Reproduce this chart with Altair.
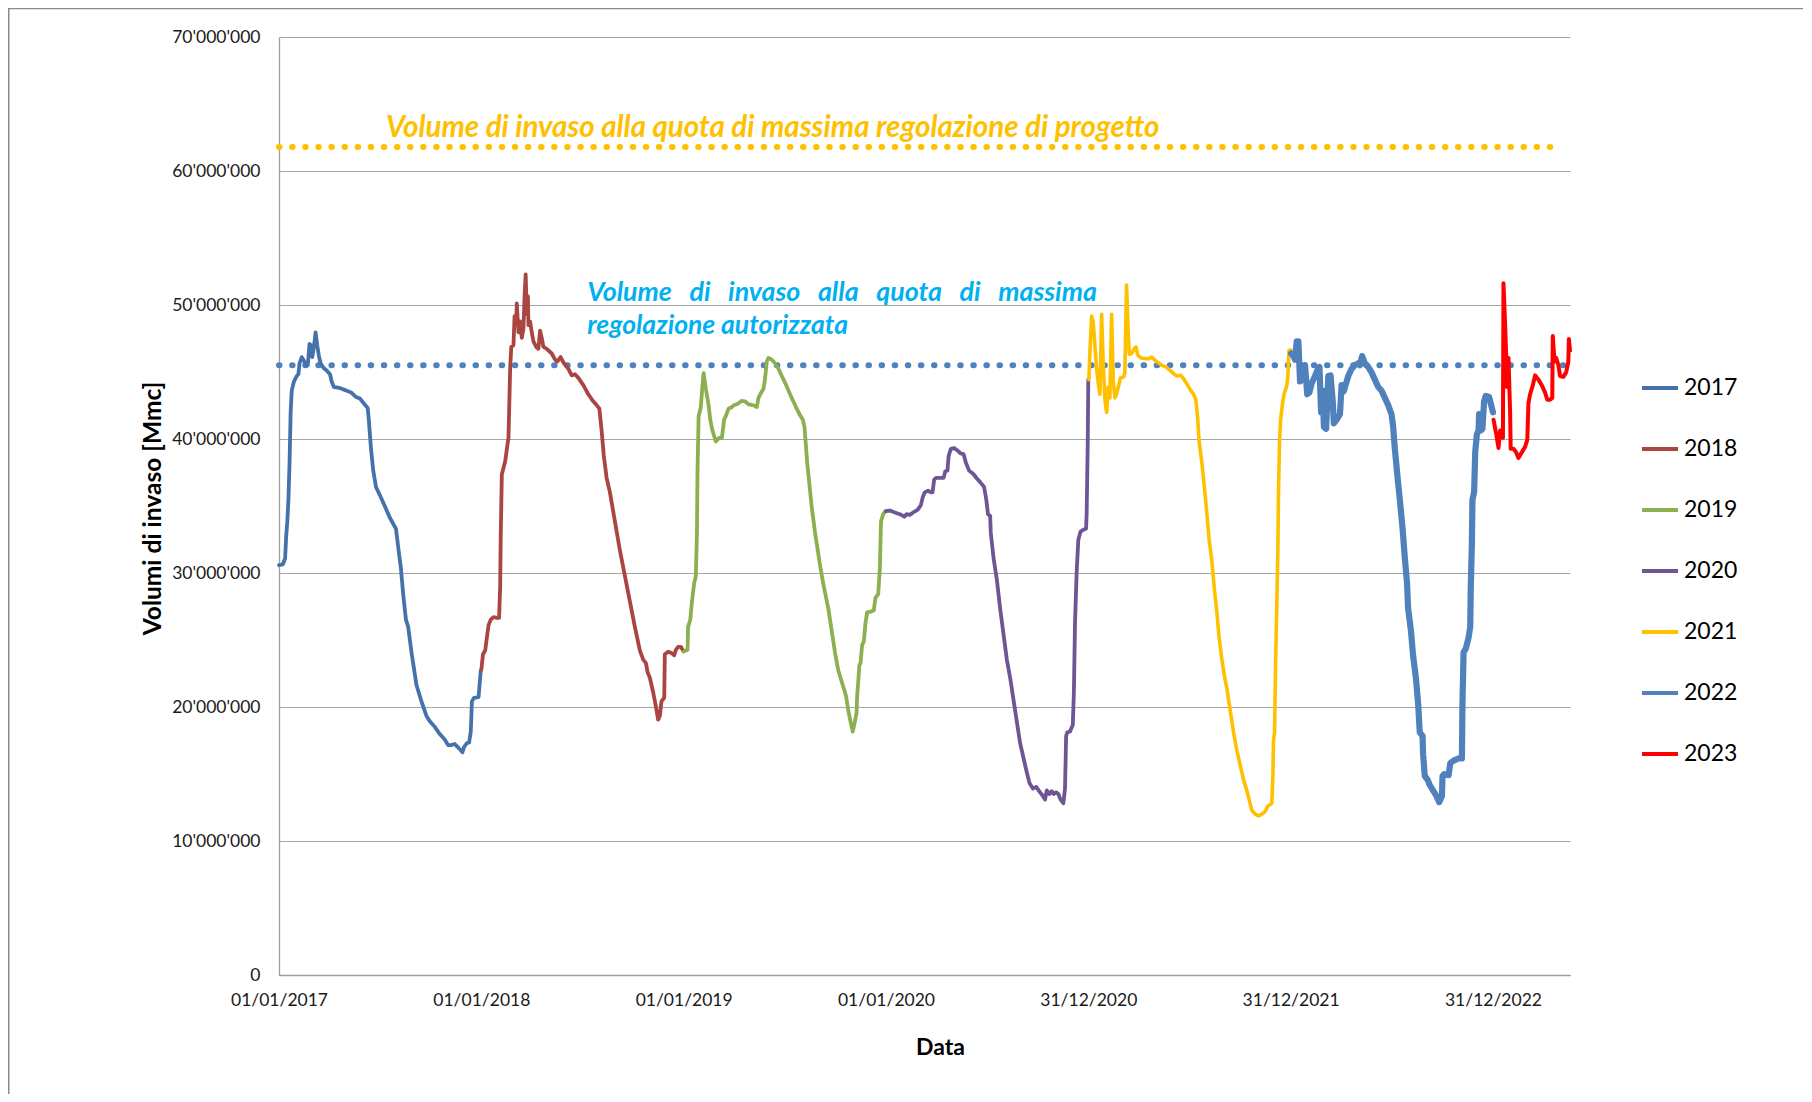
import altair as alt
import pandas as pd

# ---------------- data ----------------
START = "2017-01-01"          # day 0 of the day offsets below
AXIS_END = "2023-05-19"       # right end of the date axis

years = ["2017", "2018", "2019", "2020", "2021", "2022", "2023"]
year_colors = ["#4572AA", "#AA4542", "#8CB050", "#6E5594", "#FFC000", "#4F81BD", "#FF0000"]
year_widths = [3.8, 3.8, 3.8, 3.8, 3.6, 6.2, 4.0]

# days since START, volumes in millions of m3
d2017 = [0, 7, 11, 13, 15, 17, 19, 21, 23, 27, 32, 35, 37, 41, 45, 49, 52, 55, 58, 60,
         63, 66, 69, 72, 75, 80, 86, 92, 95, 99, 107, 113, 122, 131, 139, 146, 153, 160, 162, 166,
         170, 175, 182, 191, 200, 211, 215, 220, 224, 229, 233, 239, 248, 257, 266, 272, 281, 290, 299, 305,
         311, 317, 322, 327, 331, 334, 339, 343, 346, 348, 352, 360, 364]
v2017 = [30.59, 30.65, 31.08, 32.76, 33.85, 35.47, 38.19, 41.99, 43.61, 44.29, 44.70, 44.83, 45.65, 46.11, 45.84, 45.46, 45.51, 47.09, 47.00, 46.11,
         46.87, 47.95, 47.00, 46.19, 45.65, 45.32, 45.11, 44.83, 44.29, 43.88, 43.83, 43.75, 43.61, 43.45, 43.13, 43.02, 42.66, 42.31, 41.44, 39.27,
         37.64, 36.42, 35.80, 34.98, 34.12, 33.30, 31.95, 30.32, 28.42, 26.52, 25.98, 24.08, 21.64, 20.42, 19.33, 18.93, 18.52, 17.98, 17.57, 17.16,
         17.16, 17.24, 17.03, 16.81, 16.62, 17.03, 17.30, 17.35, 18.17, 20.42, 20.69, 20.74, 22.72]

d2018 = [365, 368, 372, 375, 378, 382, 387, 393, 397, 399, 400, 402, 408, 412, 414, 417, 419, 423, 425, 428,
         429, 432, 435, 438, 441, 443, 445, 447, 449, 450, 453, 456, 459, 464, 468, 471, 474, 477, 483, 492,
         498, 502, 508, 514, 522, 528, 534, 540, 549, 558, 566, 573, 578, 582, 586, 591, 597, 606, 615, 624,
         633, 642, 651, 657, 662, 665, 669, 675, 680, 684, 687, 690, 695, 696, 702, 708, 713, 716, 720, 725, 729]
v2018 = [22.78, 23.94, 24.22, 25.16, 26.11, 26.52, 26.71, 26.65, 26.65, 28.96, 32.76, 37.37, 38.32, 39.54, 40.09, 45.24, 46.87, 47.00, 49.17, 48.77,
         50.12, 47.95, 48.77, 47.55, 48.23, 50.67, 52.29, 49.31, 50.67, 48.50, 48.77, 47.95, 47.28, 46.87, 46.73, 48.09, 47.55, 46.87, 46.73, 46.38,
         45.92, 45.78, 46.11, 45.65, 45.24, 44.75, 44.83, 44.56, 44.02, 43.34, 42.85, 42.53, 42.26, 40.63, 38.73, 37.10, 36.02, 33.85, 31.68, 29.78,
         27.88, 25.98, 24.22, 23.54, 23.27, 22.59, 22.18, 21.10, 20.01, 19.06, 19.33, 20.42, 20.69, 23.94, 24.13, 24.03, 23.86, 24.27, 24.49, 24.49, 24.22]

d2019 = [730, 737, 738, 742, 745, 749, 752, 754, 755, 757, 761, 764, 766, 770, 775, 778, 782, 788, 794, 799,
         803, 806, 811, 817, 821, 827, 835, 841, 847, 855, 862, 865, 869, 874, 877, 880, 883, 889, 895, 901,
         907, 915, 922, 928, 934, 940, 945, 948, 950, 953, 957, 961, 967, 973, 977, 983, 991, 997, 1003, 1009,
         1017, 1023, 1027, 1031, 1035, 1039, 1042, 1043, 1045, 1047, 1049, 1052, 1055, 1058, 1061, 1067, 1073, 1076, 1081, 1084,
         1086, 1090, 1094]
v2019 = [24.13, 24.27, 25.98, 26.52, 27.88, 29.23, 29.78, 33.03, 37.64, 41.71, 42.39, 44.02, 44.92, 43.75, 42.53, 41.44, 40.63, 39.81, 40.09, 40.09,
         41.44, 41.71, 42.26, 42.39, 42.53, 42.61, 42.85, 42.80, 42.58, 42.53, 42.39, 43.07, 43.40, 43.75, 44.56, 45.78, 46.05, 45.92, 45.65, 45.24,
         44.70, 44.02, 43.34, 42.80, 42.26, 41.77, 41.44, 40.90, 39.81, 38.19, 36.56, 34.93, 33.03, 31.40, 30.32, 28.96, 27.34, 25.71, 24.08, 22.72,
         21.64, 20.82, 19.74, 18.93, 18.17, 18.93, 19.60, 20.82, 21.91, 23.13, 23.27, 24.62, 24.89, 26.25, 27.06, 27.12, 27.20, 28.15, 28.42, 30.32,
         33.85, 34.39, 34.61]

d2020 = [1095, 1102, 1111, 1120, 1128, 1132, 1138, 1144, 1152, 1158, 1161, 1165, 1171, 1176, 1179, 1182, 1186, 1199, 1202, 1206,
         1208, 1212, 1218, 1224, 1230, 1235, 1239, 1245, 1253, 1259, 1265, 1272, 1276, 1279, 1283, 1284, 1289, 1295, 1301, 1307,
         1313, 1319, 1325, 1331, 1337, 1343, 1349, 1354, 1360, 1366, 1372, 1378, 1382, 1385, 1390, 1394, 1398, 1402, 1406, 1410,
         1415, 1418, 1420, 1422, 1427, 1432, 1434, 1436, 1439, 1442, 1446, 1452, 1456, 1457, 1459, 1460]
v2020 = [34.61, 34.66, 34.52, 34.39, 34.20, 34.39, 34.34, 34.52, 34.71, 35.07, 35.61, 36.02, 36.15, 36.02, 36.02, 36.97, 37.10, 37.10, 37.59, 37.64,
         38.73, 39.27, 39.33, 39.14, 38.92, 38.87, 38.24, 37.64, 37.37, 37.05, 36.78, 36.42, 35.47, 34.39, 34.25, 33.03, 31.13, 29.51, 27.34, 25.44,
         23.54, 22.18, 20.55, 18.93, 17.30, 16.21, 15.13, 14.31, 13.91, 14.04, 13.69, 13.36, 13.09, 13.77, 13.50, 13.72, 13.50, 13.63, 13.50, 13.09,
         12.82, 13.91, 17.84, 18.11, 18.17, 18.65, 21.10, 26.25, 30.05, 32.49, 33.09, 33.25, 33.30, 34.39, 39.81, 44.43]

d2021 = [1461, 1463, 1466, 1469, 1472, 1475, 1478, 1481, 1484, 1487, 1490, 1493, 1496, 1499, 1502, 1505, 1508, 1511, 1515, 1518,
         1524, 1526, 1529, 1532, 1534, 1538, 1543, 1546, 1549, 1555, 1562, 1570, 1574, 1579, 1585, 1592, 1600, 1608, 1615, 1620,
         1627, 1633, 1639, 1645, 1650, 1654, 1657, 1660, 1665, 1669, 1674, 1678, 1683, 1687, 1692, 1696, 1701, 1705, 1710, 1716,
         1722, 1728, 1734, 1740, 1746, 1751, 1755, 1761, 1767, 1773, 1779, 1784, 1791, 1793, 1794, 1796, 1798, 1800, 1802, 1803,
         1805, 1807, 1810, 1813, 1818, 1820, 1822, 1825]
v2021 = [44.43, 46.60, 49.17, 48.63, 46.87, 45.24, 44.16, 43.34, 49.31, 45.51, 42.93, 41.99, 43.88, 43.07, 49.31, 44.43, 43.07, 43.34, 44.02, 44.56,
         44.64, 44.97, 51.48, 47.95, 46.33, 46.38, 46.73, 46.87, 46.27, 46.05, 46.00, 46.00, 46.11, 45.92, 45.73, 45.51, 45.38, 45.11, 44.83, 44.70,
         44.75, 44.43, 44.02, 43.61, 43.34, 42.93, 41.71, 39.81, 38.19, 36.56, 34.39, 32.49, 30.86, 28.96, 27.06, 25.16, 23.54, 22.45, 21.37, 19.74,
         18.11, 16.76, 15.67, 14.58, 13.77, 12.96, 12.28, 12.01, 11.87, 12.01, 12.20, 12.60, 12.82, 14.85, 17.43, 18.11, 23.54, 27.61, 31.68, 35.75,
         39.81, 41.44, 42.53, 43.34, 43.94, 44.70, 46.60, 46.65]

d2022 = [1826, 1830, 1833, 1836, 1839, 1842, 1845, 1848, 1851, 1855, 1859, 1863, 1869, 1873, 1877, 1880, 1883, 1885, 1889, 1893,
         1897, 1901, 1903, 1908, 1914, 1917, 1921, 1924, 1929, 1935, 1941, 1947, 1950, 1954, 1959, 1965, 1971, 1977, 1983, 1989,
         1995, 2001, 2007, 2010, 2013, 2018, 2022, 2027, 2031, 2035, 2037, 2042, 2046, 2051, 2055, 2058, 2063, 2064, 2067, 2072,
         2076, 2082, 2088, 2093, 2098, 2099, 2102, 2110, 2113, 2119, 2128, 2134, 2135, 2137, 2141, 2146, 2149, 2150, 2152, 2153,
         2156, 2158, 2161, 2164, 2165, 2167, 2168, 2171, 2174, 2177, 2183, 2186, 2190]
v2022 = [46.38, 46.19, 45.92, 47.28, 47.28, 44.29, 45.51, 44.43, 45.51, 43.34, 43.48, 44.16, 44.70, 45.11, 45.38, 41.99, 43.61, 40.90, 40.76, 44.70,
         44.75, 42.80, 41.17, 41.44, 41.85, 44.02, 43.56, 44.02, 44.70, 45.24, 45.51, 45.65, 45.51, 46.19, 45.65, 45.38, 44.97, 44.43, 43.88, 43.61,
         43.07, 42.53, 41.85, 40.90, 39.27, 37.10, 35.47, 33.30, 31.13, 29.23, 27.34, 25.71, 23.81, 22.18, 20.28, 18.11, 17.84, 16.48, 14.85, 14.58,
         14.18, 13.77, 13.36, 12.90, 13.36, 14.85, 14.99, 14.91, 15.81, 16.00, 16.16, 16.16, 20.28, 24.08, 24.35, 25.16, 25.98, 28.96, 32.22, 35.47,
         36.02, 39.00, 40.36, 40.63, 41.85, 40.90, 40.63, 40.76, 42.80, 43.21, 43.13, 42.66, 41.99]

d2023 = [2191, 2196, 2200, 2203, 2206, 2208, 2209, 2212, 2214, 2215, 2218, 2221, 2222, 2227, 2232, 2236, 2242, 2248, 2252, 2254,
         2257, 2262, 2266, 2272, 2278, 2284, 2288, 2293, 2297, 2298, 2301, 2304, 2308, 2311, 2317, 2322, 2326, 2327, 2329]
v2023 = [41.44, 40.36, 39.33, 40.63, 40.36, 40.09, 51.62, 48.50, 46.05, 43.88, 46.05, 41.99, 39.27, 39.27, 39.00, 38.59, 39.00, 39.41, 39.95, 42.66,
         43.34, 44.02, 44.75, 44.43, 44.02, 43.48, 42.93, 42.93, 43.07, 47.68, 45.78, 46.05, 45.51, 44.70, 44.64, 44.97, 45.78, 47.47, 46.60]

x_tick_dates = ["2017-01-01", "2018-01-01", "2019-01-01", "2020-01-01", "2020-12-31", "2021-12-31", "2022-12-31"]
y_ticks = [0, 10000000, 20000000, 30000000, 40000000, 50000000, 60000000, 70000000]

ref_progetto = 61.8      # Mmc, dotted orange line
ref_progetto_days = [0, 2316]
ref_autorizzata = 45.5   # Mmc, dotted blue line
ref_autorizzata_days = [0, 2329]

GAP = "\u00a0\u00a0\u00a0"
ann_texts = [
    "Volume di invaso alla quota di massima regolazione di progetto",
    GAP.join(["Volume", "di", "invaso", "alla", "quota", "di", "massima"]),
    "regolazione autorizzata",
]
ann_days = [193, 556, 556]
ann_values = [62.54, 50.32, 47.85]
ann_colors = ["#FFC000", "#00B0F0", "#00B0F0"]
ann_sizes = [29.5, 26.8, 26.5]

# ---------------- tables ----------------
def to_dates(days):
    return [(pd.Timestamp(START) + pd.Timedelta(days=int(d))).strftime("%Y-%m-%d") for d in days]

all_days = [d2017, d2018, d2019, d2020, d2021, d2022, d2023]
all_vals = [v2017, v2018, v2019, v2020, v2021, v2022, v2023]
rows = []
for yr, w, days, vals in zip(years, year_widths, all_days, all_vals):
    for dt_s, v in zip(to_dates(days), vals):
        rows.append({"date": dt_s, "value": v * 1e6, "series": yr, "w": w})
df = pd.DataFrame(rows)

ann_df = pd.DataFrame({
    "date": to_dates(ann_days),
    "value": [v * 1e6 for v in ann_values],
    "text": ann_texts,
    "color": ann_colors,
    "size": ann_sizes,
})

ref_df = pd.DataFrame({
    "date": to_dates(ref_progetto_days) + to_dates(ref_autorizzata_days),
    "value": [ref_progetto * 1e6] * 2 + [ref_autorizzata * 1e6] * 2,
    "ref": ["progetto", "progetto", "autorizzata", "autorizzata"],
})


def dt(s):
    y, m, d = map(int, s.split("-"))
    return alt.DateTime(year=y, month=m, date=d, utc=True)


FONT = "Lato"
PW, PH = 1291, 938

x_scale = alt.Scale(type="utc", domain=[dt(START), dt(AXIS_END)])
y_scale = alt.Scale(domain=[0, 70000000], nice=False, zero=True)

x_enc = alt.X(
    "date:T", scale=x_scale,
    axis=alt.Axis(
        values=[dt(s) for s in x_tick_dates],
        labelExpr="utcFormat(datum.value, '%d/%m/%Y')",
        grid=False, ticks=False, tickSize=0, labelPadding=16,
        labelFont=FONT, labelFontSize=17.5, labelColor="#1a1a1a",
        labelFlush=False, labelOverlap=False,
        domainColor="#9e9e9e", domainWidth=1.3,
        title="Data", titleFont=FONT, titleFontSize=23, titleFontWeight="bold",
        titleColor="#000000", titleX=661, titleY=72, titleBaseline="middle",
    ),
)
y_enc = alt.Y(
    "value:Q", scale=y_scale,
    axis=alt.Axis(
        values=y_ticks,
        labelExpr="replace(replace(format(datum.value, ','), ',', \"'\"), ',', \"'\")",
        grid=True, gridColor="#a6a6a6", gridWidth=1.2,
        ticks=False, tickSize=0, labelPadding=19,
        labelFont=FONT, labelFontSize=17.5, labelColor="#1a1a1a",
        domainColor="#9e9e9e", domainWidth=1.3,
        title="Volumi di invaso [Mmc]", titleFont=FONT, titleFontSize=24.5,
        titleFontWeight="bold", titleColor="#000000",
        titleX=-126, titleY=471, titleBaseline="middle",
    ),
)

frame = alt.Chart(pd.DataFrame({"k": [0]})).mark_rect(
    fill="transparent", stroke="#8a8a8a", strokeWidth=1.5
).encode(
    x=alt.value(-270.25), x2=alt.value(PW + 400),
    y=alt.value(-28.5), y2=alt.value(PH + 400),
)

ref_lines = alt.Chart(ref_df).mark_line(
    strokeWidth=6, strokeDash=[0.5, 12.6], strokeCap="round"
).encode(
    x=alt.X("date:T", scale=x_scale),
    y=alt.Y("value:Q", scale=y_scale),
    color=alt.Color("ref:N", scale=alt.Scale(domain=["progetto", "autorizzata"],
                                             range=["#FFC000", "#4F81BD"]), legend=None),
    detail="ref:N",
)

lines = alt.Chart(df).mark_line(strokeJoin="round", strokeCap="round").encode(
    x=x_enc,
    y=y_enc,
    color=alt.Color(
        "series:N", scale=alt.Scale(domain=years, range=year_colors),
        legend=alt.Legend(
            title=None, orient="none", legendX=1361, legendY=331,
            symbolType="stroke", symbolSize=1296, symbolStrokeWidth=3.8,
            labelFont=FONT, labelFontSize=23, labelColor="#000000",
            rowPadding=29, labelOffset=4, padding=0,
        ),
    ),
    strokeWidth=alt.StrokeWidth("w:Q", scale=None, legend=None),
    detail="series:N",
)

texts = alt.Chart(ann_df).mark_text(
    align="left", baseline="alphabetic", font=FONT, fontStyle="italic", fontWeight="bold"
).encode(
    x=alt.X("date:T", scale=x_scale),
    y=alt.Y("value:Q", scale=y_scale),
    text="text:N",
    color=alt.Color("color:N", scale=None),
    size=alt.Size("size:Q", scale=None),
)

chart = alt.layer(frame, ref_lines, lines, texts).resolve_scale(color="independent").properties(
    width=PW, height=PH,
    autosize=alt.AutoSizeParams(type="none"),
    padding={"left": 271, "top": 29, "right": 233, "bottom": 119},
    background="white",
).configure_view(stroke=None)

chart.save("out.html", embed_options={"renderer": "svg", "actions": False})
